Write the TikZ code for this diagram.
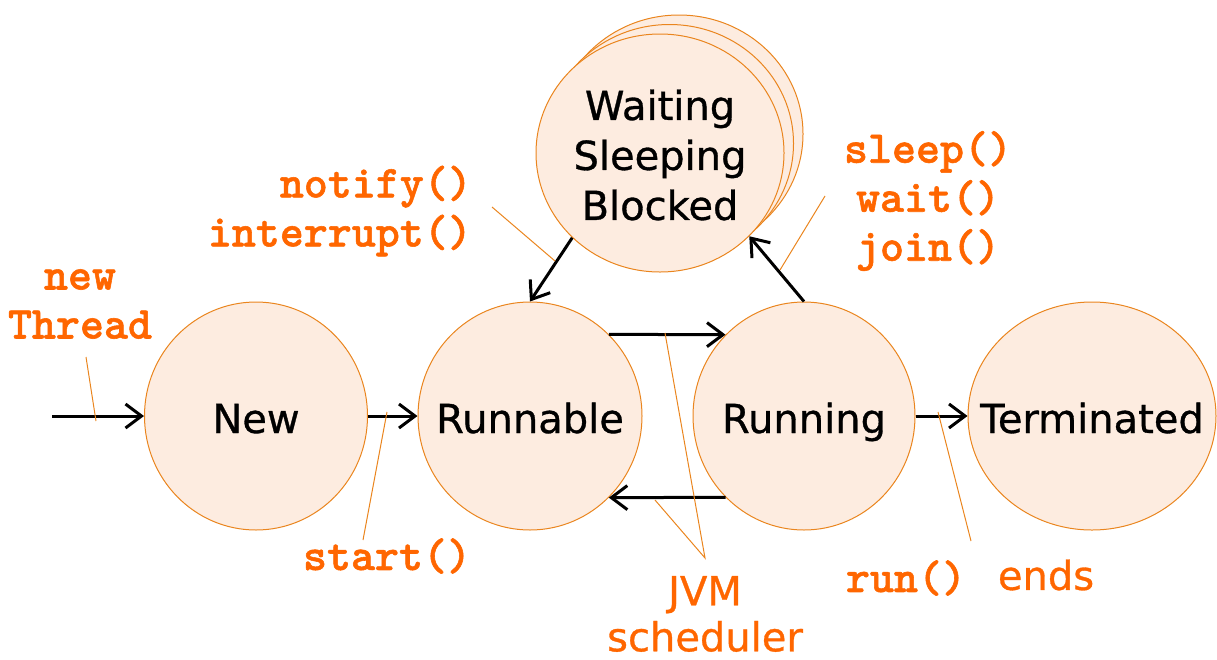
\documentclass[tikz,border=0pt]{standalone}
\usepackage{fontspec}
\setmainfont{DejaVu Sans}[FakeBold=0.8]
\newfontfamily\codefont{lmmonolt10-bold.otf}[FakeBold=1.2]
\usetikzlibrary{arrows.meta,shapes.geometric}
\definecolor{fillc}{RGB}{253,236,224}
\definecolor{edgec}{RGB}{234,133,30}
\definecolor{lbl}{RGB}{255,102,0}
\begin{document}
\begin{tikzpicture}[x=1pt,y=-1pt,
  state/.style={ellipse,draw=edgec,fill=fillc,line width=1pt,inner sep=0pt},
  stxt/.style={font=\fontsize{40}{50}\selectfont,align=center,inner sep=0pt},
  stone/.style={stxt,text height=34pt,text depth=0pt},
  arr/.style={line width=3pt,-{Straight Barb[length=16pt,width=24pt]}},
  lead/.style={draw=edgec,line width=1pt},
  code/.style={text=lbl,font=\codefont\fontsize{45.7}{49}\selectfont,inner sep=0pt},
  txt/.style={text=lbl,font=\fontsize{40}{46}\selectfont,inner sep=0pt}]
\useasboundingbox (0,0) rectangle (1217,659);

% states
\node[state,minimum width=223pt,minimum height=228pt,label={[stone]center:New}] (new) at (256,416) {};
\node[state,minimum width=224pt,minimum height=228pt,label={[stone]center:Runnable}] (runnable) at (530,416) {};
\node[state,minimum width=222pt,minimum height=228pt,label={[stone]center:Running}] (running) at (804,416) {};
\node[state,minimum width=248pt,minimum height=228pt,label={[stone]center:Terminated}] (term) at (1092,416) {};
\path[draw=edgec,fill=fillc,line width=1pt] (679,134) ellipse [x radius=124,y radius=119];
\path[draw=edgec,fill=fillc,line width=1pt] (669.5,143.5) ellipse [x radius=124,y radius=119];
\node[state,minimum width=248pt,minimum height=238pt,label={[stxt,yshift=-2pt]center:Waiting\\Sleeping\\Blocked}] (waiting) at (660,153) {};

% transitions
\coordinate (entry) at (52,416);
\draw[arr] (entry) -- (new);
\draw[arr] (new) -- (runnable);
\draw[arr] (runnable.46) -- (running.134);
\draw[arr] (running.-134) -- (runnable.-46);
\draw[arr] (running) -- (term);
\draw[arr] (waiting.224) -- (runnable.90);
\draw[arr] (running.90) -- (waiting.-43);

% labels
\node[code,align=center] (newlbl) at (80,304) {new~\\Thread};
\node[code,align=right,anchor=east] (notlbl) at (472,211) {notify()\\interrupt()};
\node[code,align=center] (sleeplbl) at (928,201) {sleep()\\wait()\\join()};
\node[code] (startlbl) at (387,556) {start()};
\node[code] (runlbl) at (906,578) {run()};
\node[txt] (endslbl) at (1046,575) {ends};
\node[txt,align=center] (jvmlbl) at (705,614) {JVM\\scheduler};

% leader lines
\coordinate (nt1) at (86,357); \coordinate (nt2) at (96,421);
\draw[lead] (nt1) -- (nt2);
\coordinate (st1) at (387,412); \coordinate (st2) at (363,540);
\draw[lead] (st1) -- (st2);
\coordinate (no1) at (492,207); \coordinate (no2) at (555,261);
\draw[lead] (no1) -- (no2);
\coordinate (sl1) at (825,196); \coordinate (sl2) at (780,270);
\draw[lead] (sl1) -- (sl2);
\coordinate (j1) at (665,333); \coordinate (jc) at (705,558); \coordinate (j2) at (655,500);
\draw[lead] (j1) -- (jc) -- (j2);
\coordinate (r1) at (938,412); \coordinate (r2) at (971,541);
\draw[lead] (r1) -- (r2);
\end{tikzpicture}
\end{document}
